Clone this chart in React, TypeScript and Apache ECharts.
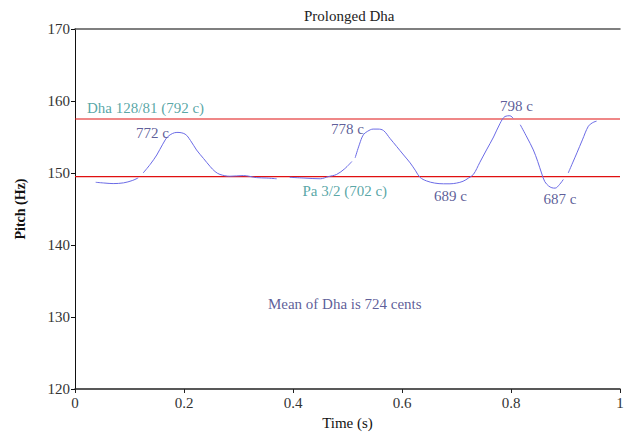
import React, { useEffect, useRef } from "react";
import * as echarts from "echarts";

const titleText = "Prolonged Dha";
const xTicks = { min: 0, max: 1, interval: 0.2 };
const yTicks = { min: 120, max: 170, interval: 10 };

// pitch contour segments [time (s), pitch (Hz)]
const seg1: number[][] = [
  [0.038, 148.71], [0.055, 148.6], [0.07, 148.53], [0.089, 148.63], [0.105, 148.95], [0.116, 149.32],
];
const seg2: number[][] = [
  [0.125, 150.0], [0.138, 151.2], [0.15, 152.5], [0.161, 154.0], [0.171, 155.1], [0.187, 155.64],
  [0.202, 155.4], [0.212, 154.5], [0.223, 153.2], [0.236, 152.0], [0.248, 150.9], [0.257, 150.2],
  [0.266, 149.8], [0.284, 149.55], [0.309, 149.64], [0.333, 149.36], [0.352, 149.3], [0.37, 149.2],
];
const seg3: number[][] = [
  [0.394, 149.4], [0.42, 149.3], [0.45, 149.2], [0.465, 149.5], [0.48, 149.8], [0.495, 150.6], [0.508, 151.6],
];
const seg4: number[][] = [
  [0.514, 152.1], [0.522, 154.0], [0.529, 155.3], [0.537, 155.8], [0.547, 156.1], [0.556, 156.1],
  [0.566, 155.9], [0.578, 154.8], [0.59, 153.7], [0.603, 152.5], [0.615, 151.4], [0.625, 150.3],
  [0.633, 149.4], [0.645, 148.9], [0.66, 148.6], [0.676, 148.5], [0.688, 148.5], [0.7, 148.6],
  [0.712, 148.85], [0.722, 149.3], [0.731, 149.8], [0.743, 151.5], [0.755, 153.2], [0.768, 155.0],
  [0.78, 156.9], [0.789, 157.85], [0.798, 157.95], [0.804, 157.6],
];
const seg5: number[][] = [
  [0.817, 156.7], [0.829, 155.0], [0.841, 153.2], [0.849, 151.6], [0.856, 150.0], [0.862, 148.8],
  [0.869, 148.2], [0.875, 147.95], [0.881, 147.9], [0.889, 148.4], [0.896, 149.1],
];
const seg6: number[][] = [
  [0.905, 150.0], [0.913, 151.4], [0.921, 152.8], [0.931, 154.6], [0.942, 156.5], [0.95, 157.0], [0.957, 157.2],
];
const segments = [seg1, seg2, seg3, seg4, seg5, seg6];

// reference pitches (Hz): Dha 128/81 and Pa 3/2
const refLines = [157.5, 149.5];

// annotations: [time, pitch, text]
const navyNotes: [number, number, string][] = [
  [0.142, 155.55, "772 c"],
  [0.5, 156.1, "778 c"],
  [0.81, 159.3, "798 c"],
  [0.689, 146.8, "689 c"],
  [0.89, 146.45, "687 c"],
  [0.495, 131.8, "Mean of Dha is 724 cents"],
];
const tealNotes: [number, number, string][] = [
  [0.495, 147.5, "Pa 3/2 (702 c)"],
];
const tealLeftNotes: [number, number, string][] = [
  [0.022, 159.06, "Dha 128/81 (792 c)"],
];

const FONT = "'Liberation Serif', 'DejaVu Serif', serif";

export default function App() {
  const ref = useRef<HTMLDivElement>(null);
  useEffect(() => {
    if (!ref.current) return;
    const chart = echarts.init(ref.current, null, { renderer: "svg" });
    const noteSeries = (data: [number, number, string][], color: string, align: string) => ({
      type: "scatter",
      symbolSize: 0,
      silent: true,
      z: 5,
      data: data.map((d) => ({ value: [d[0], d[1]], name: d[2] })),
      label: {
        show: true,
        position: "inside",
        formatter: (p: any) => p.name,
        color,
        fontFamily: FONT,
        fontSize: 15,
        align,
        verticalAlign: "middle",
      },
    });
    chart.setOption({
      animation: false,
      backgroundColor: "#ffffff",
      title: {
        text: titleText,
        left: 299,
        top: 3,
        textStyle: { fontFamily: FONT, fontSize: 15, fontWeight: "normal", color: "#222" },
      },
      grid: { left: 75, right: 7, top: 29, bottom: 45 },
      xAxis: [
        {
          type: "value",
          min: xTicks.min,
          max: xTicks.max,
          interval: xTicks.interval,
          name: "Time (s)",
          nameLocation: "middle",
          nameGap: 26,
          nameTextStyle: { fontFamily: FONT, fontSize: 15, color: "#111" },
          axisLine: { show: true, lineStyle: { color: "#222", width: 1.5 } },
          axisTick: { show: true, length: 4, lineStyle: { color: "#222" } },
          axisLabel: { fontFamily: FONT, fontSize: 15, color: "#333", margin: 6 },
          splitLine: { show: false },
        },
        {
          type: "value",
          position: "top",
          min: xTicks.min,
          max: xTicks.max,
          axisLine: { show: true, lineStyle: { color: "#555", width: 1.5 } },
          axisTick: { show: false },
          axisLabel: { show: false },
          splitLine: { show: false },
        },
      ],
      yAxis: [
        {
          type: "value",
          min: yTicks.min,
          max: yTicks.max,
          interval: yTicks.interval,
          name: "Pitch (Hz)",
          nameLocation: "middle",
          nameGap: 48,
          nameTextStyle: { fontFamily: FONT, fontSize: 14, fontWeight: "bold", color: "#111" },
          axisLine: { show: true, lineStyle: { color: "#111", width: 1 } },
          axisTick: { show: true, length: 4, lineStyle: { color: "#111" } },
          axisLabel: { fontFamily: FONT, fontSize: 15, color: "#333", margin: 5 },
          splitLine: { show: false },
        },
        {
          type: "value",
          position: "right",
          min: yTicks.min,
          max: yTicks.max,
          axisLine: { show: true, lineStyle: { color: "#111", width: 1 } },
          axisTick: { show: false },
          axisLabel: { show: false },
          splitLine: { show: false },
        },
      ],
      series: [
        ...refLines.map((v) => ({
          type: "line",
          data: [
            [xTicks.min, v],
            [xTicks.max, v],
          ],
          showSymbol: false,
          silent: true,
          lineStyle: { color: "#e01010", width: 1.2 },
          z: 2,
        })),
        ...segments.map((seg) => ({
          type: "line",
          data: seg,
          smooth: 0.35,
          showSymbol: false,
          silent: true,
          lineStyle: { color: "#6b6be6", width: 1 },
          z: 3,
        })),
        noteSeries(navyNotes, "#34347e", "center"),
        noteSeries(tealNotes, "#2e8f8f", "center"),
        noteSeries(tealLeftNotes, "#2e8f8f", "left"),
      ],
    });
    return () => chart.dispose();
  }, []);
  return (
    <div
      ref={ref}
      style={{ position: "fixed", left: 0, top: 0, width: 627, height: 435, background: "#fff" }}
    />
  );
}
